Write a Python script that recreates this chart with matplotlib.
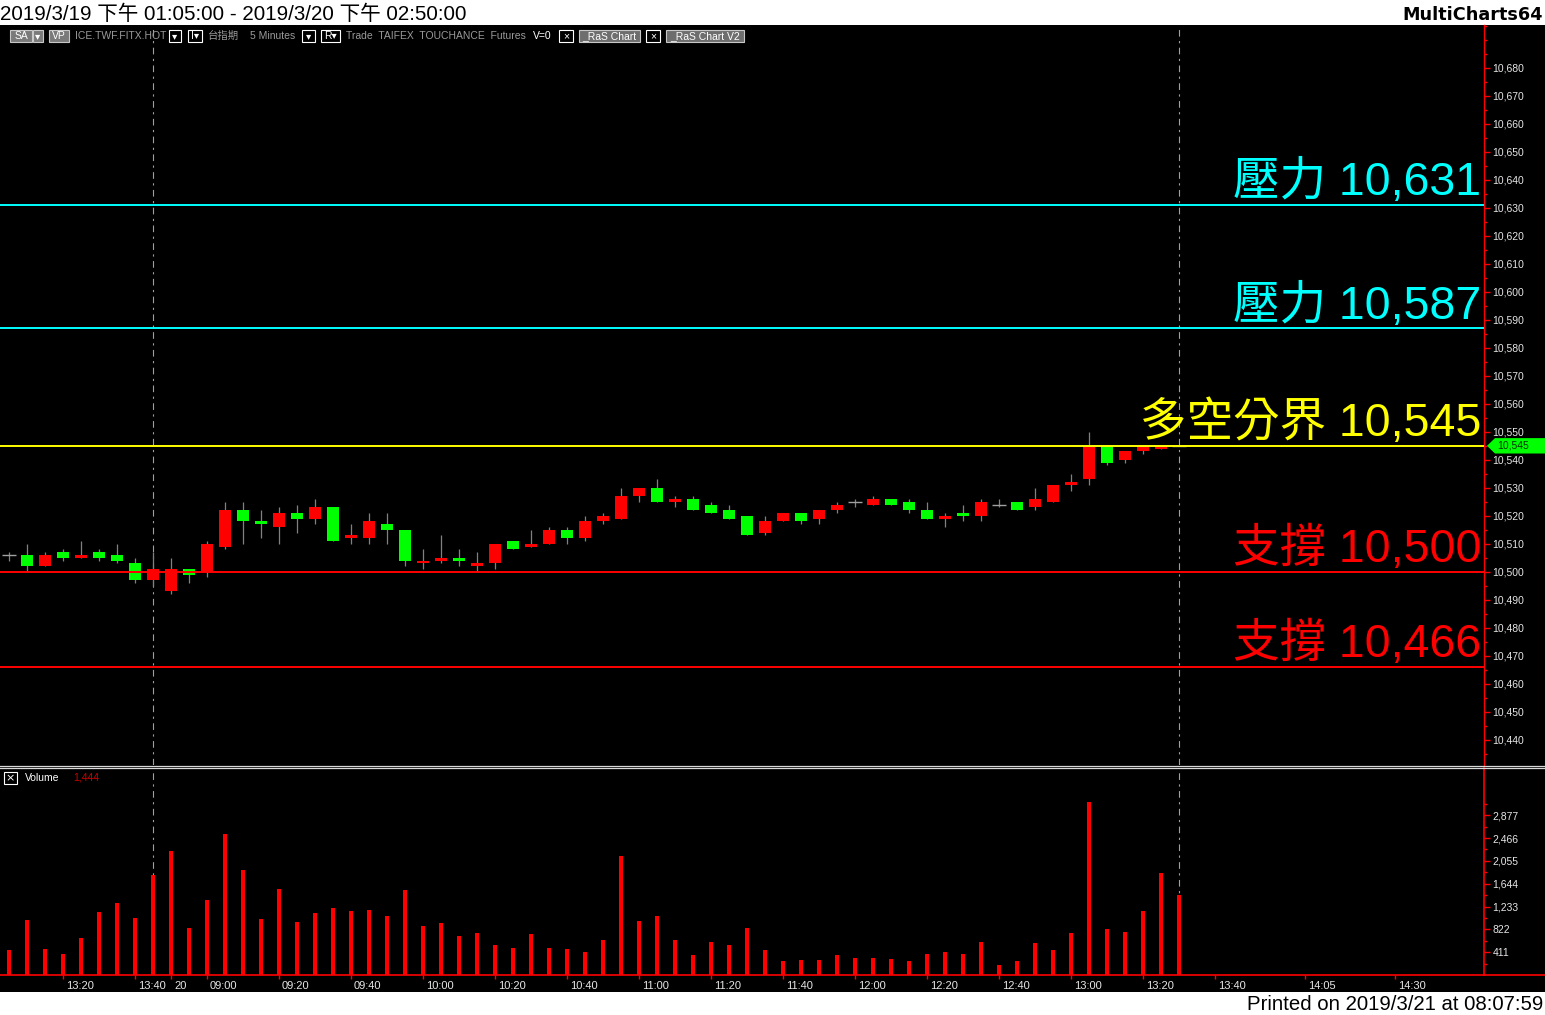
import matplotlib
matplotlib.use("Agg")
import matplotlib.pyplot as plt
from matplotlib import font_manager
from matplotlib.lines import Line2D
from matplotlib.patches import Rectangle, Polygon
import matplotlib.transforms as mtransforms
from matplotlib.ticker import FixedLocator, FuncFormatter, MultipleLocator

# ---------------- data ----------------
def session(start, end, step=5):
    h, m = map(int, start.split(":"))
    eh, em = map(int, end.split(":"))
    out, t = [], h * 60 + m
    while t <= eh * 60 + em:
        out.append(f"{t // 60:02d}:{t % 60:02d}")
        t += step
    return out

bar_times = [("3/19", t) for t in session("13:05", "13:45")] + \
            [("3/20", t) for t in session("08:50", "14:50")]

opens = [10506, 10506, 10502, 10507, 10505, 10507, 10506, 10503, 10497, 10493,
         10501, 10500, 10509, 10522, 10518, 10516, 10521, 10519, 10523, 10512,
         10512, 10517, 10515, 10503, 10504, 10505, 10502, 10503, 10511, 10509,
         10510, 10515, 10512, 10518, 10519, 10527, 10530, 10525, 10526, 10524,
         10522, 10520, 10514, 10518, 10521, 10519, 10522, 10525, 10524, 10526,
         10525, 10522, 10519, 10521, 10520, 10524, 10525, 10523, 10525, 10531,
         10533, 10545, 10540, 10543, 10544, 10545]
highs = [10507, 10510, 10507, 10508, 10511, 10508, 10510, 10505, 10507, 10505,
         10501, 10511, 10525, 10525, 10522, 10523, 10524, 10526, 10523, 10517,
         10521, 10521, 10515, 10508, 10513, 10508, 10507, 10510, 10511, 10515,
         10516, 10516, 10520, 10521, 10530, 10530, 10533, 10527, 10527, 10525,
         10524, 10520, 10520, 10521, 10521, 10522, 10525, 10526, 10527, 10526,
         10526, 10525, 10521, 10524, 10526, 10526, 10525, 10530, 10531, 10535,
         10550, 10545, 10543, 10545, 10545, 10545]
lows = [10504, 10500, 10502, 10504, 10505, 10504, 10503, 10496, 10495, 10492,
        10496, 10498, 10508, 10510, 10512, 10510, 10514, 10517, 10511, 10510,
        10510, 10510, 10502, 10501, 10503, 10502, 10500, 10501, 10508, 10509,
        10510, 10510, 10511, 10517, 10519, 10525, 10525, 10523, 10522, 10521,
        10519, 10513, 10513, 10518, 10517, 10517, 10521, 10523, 10524, 10524,
        10521, 10519, 10516, 10518, 10518, 10523, 10522, 10522, 10525, 10529,
        10531, 10538, 10539, 10542, 10544, 10545]
closes = [10506, 10502, 10506, 10505, 10506, 10505, 10504, 10497, 10501, 10501,
          10499, 10510, 10522, 10518, 10517, 10521, 10519, 10523, 10511, 10513,
          10518, 10515, 10504, 10504, 10505, 10504, 10503, 10510, 10508, 10510,
          10515, 10512, 10518, 10520, 10527, 10530, 10525, 10526, 10522, 10521,
          10519, 10513, 10518, 10521, 10518, 10522, 10524, 10525, 10526, 10524,
          10522, 10519, 10520, 10520, 10525, 10524, 10522, 10526, 10531, 10532,
          10545, 10539, 10543, 10545, 10545, 10545]
volumes = [450, 990, 468, 378, 666, 1134, 1296, 1026, 1800, 2232,
           846, 1350, 2538, 1890, 1008, 1548, 954, 1116, 1206, 1152,
           1170, 1062, 1530, 882, 936, 702, 756, 540, 486, 738,
           486, 468, 414, 630, 2142, 972, 1062, 630, 360, 594,
           540, 846, 450, 252, 270, 270, 360, 306, 306, 288,
           252, 378, 414, 378, 594, 180, 252, 576, 450, 756,
           3114, 828, 774, 1152, 1836, 1444]

level_values = [10631, 10587, 10545, 10500, 10466]
level_names = ["壓力", "壓力", "多空分界", "支撐", "支撐"]
level_colors = ["#00FFFF", "#00FFFF", "#FFFF00", "#FF0000", "#FF0000"]

price_ticks = list(range(10440, 10681, 10))
volume_ticks = [411, 822, 1233, 1644, 2055, 2466, 2877]

xtick_times = [("3/19", "13:20"), ("3/19", "13:40"), ("3/20", "08:50"), ("3/20", "09:00"),
               ("3/20", "09:20"), ("3/20", "09:40"), ("3/20", "10:00"), ("3/20", "10:20"),
               ("3/20", "10:40"), ("3/20", "11:00"), ("3/20", "11:20"), ("3/20", "11:40"),
               ("3/20", "12:00"), ("3/20", "12:20"), ("3/20", "12:40"), ("3/20", "13:00"),
               ("3/20", "13:20"), ("3/20", "13:40"), ("3/20", "14:05"), ("3/20", "14:30")]
xtick_labels = ["13:20", "13:40", "20", "09:00", "09:20", "09:40", "10:00", "10:20",
                "10:40", "11:00", "11:20", "11:40", "12:00", "12:20", "12:40", "13:00",
                "13:20", "13:40", "14:05", "14:30"]
marker_times = [("3/19", "13:45"), ("3/20", "13:30")]

last_price = 10545
last_volume = 1444

# ---------------- figure ----------------
W, H, DPI = 1545, 1015, 100
fig = plt.figure(figsize=(W / DPI, H / DPI), dpi=DPI, facecolor="white")
names = {f.name for f in font_manager.fontManager.ttflist}
narrow = "Liberation Sans Narrow" if "Liberation Sans Narrow" in names else "Liberation Sans"
CJK = "Noto Sans CJK TC"


def fx(x):
    return x / W


def fy(y):
    return 1 - y / H


fig.add_artist(Rectangle((0, fy(992)), 1, fy(25) - fy(992), transform=fig.transFigure,
                         facecolor="black", edgecolor="none", zorder=0))

n = len(closes)
idx = list(range(n))
xlim = (-0.5, (1484 - 9) / 18)

# ---------------- price panel ----------------
ax1 = fig.add_axes([0, fy(765), fx(1484), fy(25) - fy(765)])
ax1.set_facecolor("black")
ax1.set_xlim(*xlim)
ax1.set_ylim(10431.0, 10695.3)

for s in ("top", "left", "bottom"):
    ax1.spines[s].set_visible(False)
ax1.spines["right"].set_color("#FF0000")
ax1.spines["right"].set_linewidth(1)

# dashed markers
for t in marker_times:
    ax1.axvline(bar_times.index(t), color="#A0A0A0", lw=0.8, ls=(0, (6, 4, 2, 4)), zorder=1)

# candles
up_col, dn_col, doji_col, wick_col = "#FF0000", "#00FF00", "#A0A0A0", "#808080"
ax1.vlines(idx, lows, highs, color=wick_col, lw=0.9, zorder=2)
body_idx, body_bot, body_h, body_col = [], [], [], []
doji_idx, doji_y = [], []
for i, (o, c) in enumerate(zip(opens, closes)):
    if c == o:
        doji_idx.append(i)
        doji_y.append(c)
    else:
        body_idx.append(i)
        body_bot.append(min(o, c))
        body_h.append(abs(c - o))
        body_col.append(up_col if c > o else dn_col)
ax1.bar(body_idx, body_h, bottom=body_bot, width=0.72, color=body_col, lw=0, zorder=3)
ax1.hlines(doji_y, [i - 0.39 for i in doji_idx], [i + 0.39 for i in doji_idx],
           color=doji_col, lw=1, zorder=3)

# levels
for v, name, col in zip(level_values, level_names, level_colors):
    ax1.axhline(v, color=col, lw=1.4, zorder=4)
    ax1.annotate(f"{name} {v:,}", xy=(1, v), xycoords=("axes fraction", "data"),
                 xytext=(-2, 7), textcoords="offset points", ha="right", va="baseline",
                 fontsize=33.5, color=col, family=["Liberation Sans", CJK],
                 fontweight="light", zorder=5)

# price axis
ax1.set_xticks([])
ax1.yaxis.tick_right()
ax1.yaxis.set_major_locator(FixedLocator(price_ticks))
ax1.yaxis.set_minor_locator(MultipleLocator(5))
ax1.yaxis.set_major_formatter(FuncFormatter(lambda v, p: f"{int(v):,}"))
ax1.tick_params(axis="y", which="major", colors="#FF0000", labelcolor="#E6E6E6",
                length=4, width=1, labelsize=7.5, pad=2)
ax1.tick_params(axis="y", which="minor", colors="#FF0000", length=2, width=1)
for lab in ax1.get_yticklabels():
    lab.set_family("Liberation Sans")

# last price marker
half = 2.75
bt = mtransforms.blended_transform_factory(fig.transFigure, ax1.transData)
ax1.add_patch(Polygon([(fx(1487), last_price), (fx(1495), last_price + half),
                       (fx(1545), last_price + half), (fx(1545), last_price - half),
                       (fx(1495), last_price - half)], closed=True, transform=bt,
                      facecolor="#00FF00", edgecolor="none", clip_on=False, zorder=6))
ax1.text(fx(1497), last_price, f"{last_price:,}", transform=bt, color="#003300",
         fontsize=7.5, family="Liberation Sans", ha="left", va="center", clip_on=False, zorder=7)

# ---------------- volume panel ----------------
ax2 = fig.add_axes([0, fy(975), fx(1484), fy(768) - fy(975)])
ax2.set_facecolor("black")
ax2.set_xlim(*xlim)
ax2.set_ylim(0, 3726)
for s in ("top", "left"):
    ax2.spines[s].set_visible(False)
for s in ("right", "bottom"):
    ax2.spines[s].set_color("#FF0000")
    ax2.spines[s].set_linewidth(1.2)

for t in marker_times:
    ax2.axvline(bar_times.index(t), color="#A0A0A0", lw=0.8, ls=(0, (6, 4, 2, 4)), zorder=1)

ax2.bar(idx, volumes, width=0.17, color="#FF0000", lw=0, zorder=3)

ax2.yaxis.tick_right()
ax2.yaxis.set_major_locator(FixedLocator(volume_ticks))
ax2.yaxis.set_minor_locator(FixedLocator([v - 205.5 for v in volume_ticks] + [volume_ticks[-1] + 205.5]))
ax2.yaxis.set_major_formatter(FuncFormatter(lambda v, p: f"{int(v):,}"))
ax2.tick_params(axis="y", which="major", colors="#FF0000", labelcolor="#E6E6E6",
                length=4, width=1, labelsize=7.5, pad=2)
ax2.tick_params(axis="y", which="minor", colors="#FF0000", length=2, width=1)

ax2.set_xticks([bar_times.index(t) for t in xtick_times])
ax2.set_xticklabels(xtick_labels)
ax2.tick_params(axis="x", colors="#FF0000", labelcolor="#E6E6E6", length=3, width=1,
                labelsize=8, pad=1)
offset = mtransforms.ScaledTranslation(3 / DPI, 0, fig.dpi_scale_trans)
for lab in ax2.get_xticklabels():
    lab.set_horizontalalignment("left")
    lab.set_family("Liberation Sans")
    lab.set_transform(lab.get_transform() + offset)
for lab in ax2.get_yticklabels():
    lab.set_family("Liberation Sans")

# baseline extension and separator
fig.add_artist(Line2D([fx(1484), 1], [fy(975), fy(975)], color="#FF0000", lw=1.2,
                      transform=fig.transFigure, zorder=5))
for yy in (765.5, 767.8):
    fig.add_artist(Line2D([0, 1], [fy(yy), fy(yy)], color="#D8D8D8", lw=0.9,
                          transform=fig.transFigure, zorder=5))

# volume header
fig.add_artist(Rectangle((fx(4), fy(784)), fx(13), fy(772) - fy(784), transform=fig.transFigure,
                         facecolor="black", edgecolor="white", lw=0.8, zorder=6))
fig.text(fx(10.5), fy(778), "×", color="white", fontsize=8, ha="center", va="center",
         family="DejaVu Sans", zorder=7)
fig.text(fx(25), fy(778), "Volume", color="white", fontsize=7.5, ha="left", va="center",
         family="Liberation Sans", zorder=7)
fig.text(fx(73), fy(778), f"{last_volume:,}", color="#CC0000", fontsize=7.5, ha="left",
         va="center", family="Liberation Sans", zorder=7)

# ---------------- header / footer ----------------
fig.text(fx(0), fy(20), "2019/3/19 下午 01:05:00 - 2019/3/20 下午 02:50:00", color="black",
         fontsize=14.8, ha="left", va="baseline", family=["Liberation Sans", CJK])
fig.text(fx(1543), fy(20), "MultiCharts64", color="black", fontsize=12.7, weight="bold",
         ha="right", va="baseline", family="DejaVu Sans")
fig.text(fx(1543), fy(1010), "Printed on 2019/3/21 at 08:07:59", color="black",
         fontsize=14.7, ha="right", va="baseline", family="Liberation Sans")

# ---------------- toolbar ----------------
TBF = [narrow, "DejaVu Sans", CJK]


def tb_text(x, s, color):
    fig.text(fx(x), fy(36), s, color=color, fontsize=7.5, family=TBF, ha="left",
             va="center", zorder=7)


def tb_box(x0, x1, s, face, edge, tcolor):
    fig.add_artist(Rectangle((fx(x0), fy(42)), fx(x1) - fx(x0), fy(30) - fy(42),
                             transform=fig.transFigure, facecolor=face, edgecolor=edge,
                             lw=0.8, zorder=6))
    fig.text(fx((x0 + x1) / 2), fy(36), s, color=tcolor, fontsize=7.5, family=TBF,
             ha="center", va="center", zorder=7)


tb_box(10, 32, "SA", "#7A7A7A", "#C8C8C8", "white")
tb_box(33, 43, "▾", "#7A7A7A", "#C8C8C8", "white")
tb_box(49, 69, "VP", "#7A7A7A", "#C8C8C8", "white")
tb_text(75, "ICE.TWF.FITX.HOT", "#9A9A9A")
tb_box(169, 181, "▾", "black", "white", "white")
tb_box(188, 202, "I▾", "black", "white", "white")
tb_text(208, "台指期", "#9A9A9A")
tb_text(250, "5 Minutes", "#9A9A9A")
tb_box(302, 315, "▾", "black", "white", "white")
tb_box(321, 340, "R▾", "black", "white", "white")
tb_text(346, "Trade  TAIFEX  TOUCHANCE  Futures", "#9A9A9A")
tb_text(533, "V=0", "white")
tb_box(559, 573, "×", "black", "white", "white")
tb_box(579, 640, "_RaS Chart", "#6E6E6E", "#C8C8C8", "white")
tb_box(646, 660, "×", "black", "white", "white")
tb_box(666, 744, "_RaS Chart V2", "#6E6E6E", "#C8C8C8", "white")

fig.savefig("out.png", dpi=DPI, facecolor="white")
